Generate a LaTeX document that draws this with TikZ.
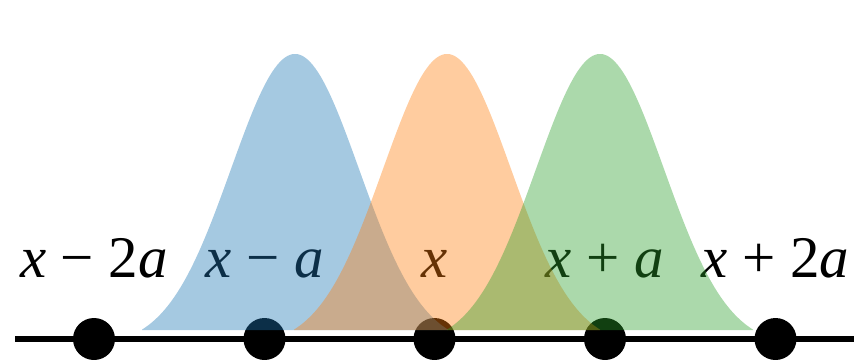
\documentclass[tikz,border=0pt]{standalone}
\usepackage{fontspec}
\setmainfont{Liberation Serif}
\definecolor{tabblue}{HTML}{1F77B4}
\definecolor{taborange}{HTML}{FF7F0E}
\definecolor{tabgreen}{HTML}{2CA02C}
\newcommand{\msp}{\hspace{0.25em}}
\tikzset{
  dotnode/.style={circle, fill=black, inner sep=0pt, minimum size=42pt},
  labnode/.style={anchor=base, inner sep=0pt, font=\fontsize{59}{62}\selectfont},
  bump/.style={fill=#1, fill opacity=0.4, draw=none}
}
\begin{document}
\begin{tikzpicture}[x=1pt,y=-1pt]
\useasboundingbox (0,0) rectangle (854,359);
% axis line
\coordinate (L) at (15,339);
\coordinate (R) at (854,339);
\draw[line width=6pt] (L) -- (R);
% dots
\foreach \n/\cx in {d1/94,d2/264.5,d3/434.5,d4/605,d5/775.5}
  \node[dotnode] (\n) at (\cx,339) {};
% labels
\node[labnode] (l1) at (94,277) {\textit{x}\msp−\msp2\textit{a}};
\node[labnode] (l2) at (264.5,277) {\textit{x}\msp−\msp\textit{a}};
\node[labnode] (l3) at (434.5,277) {\textit{x}};
\node[labnode] (l4) at (605,277) {\textit{x}\msp+\msp\textit{a}};
\node[labnode] (l5) at (775.5,277) {\textit{x}\msp+\msp2\textit{a}};
% gaussians (offset so that they meet the base line)
\foreach \cx/\col in {295/tabblue,447/taborange,600/tabgreen}
  \fill[bump=\col] (\cx-153,330) -- plot[domain=-153:153,samples=121,smooth] ({\cx+\x},{330-276*(exp(-((\x/64)^2)/2)-0.056)/0.944}) -- (\cx+153,330) -- cycle;
\end{tikzpicture}
\end{document}
